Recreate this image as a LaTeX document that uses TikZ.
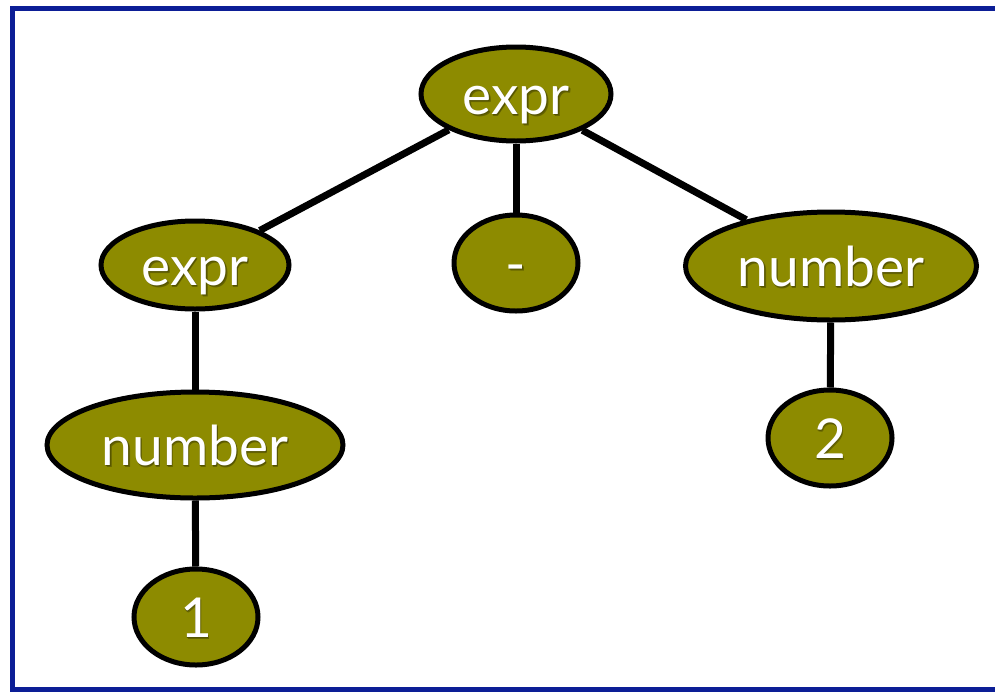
\documentclass[tikz,border=0pt]{standalone}
\usepackage{fontspec}
\setmainfont{Lato}
\usetikzlibrary{shapes.geometric}
\definecolor{treefill}{RGB}{141,139,0}
\definecolor{treeshade}{RGB}{70,69,0}
\definecolor{frameblue}{RGB}{12,30,150}
% white label with a soft dark drop shadow
\newcommand\shtext[1]{%
  \rlap{\raisebox{-2pt}{\hspace{1.5pt}\textcolor{treeshade!55!treefill}{#1}}}%
  \rlap{\raisebox{-1pt}{\hspace{0.8pt}\textcolor{treeshade!80!treefill}{#1}}}%
  \textcolor{white}{#1}}
\tikzset{
  tnode/.style={ellipse, draw=black, line width=5pt, fill=treefill,
    inner sep=0pt, text height=40pt, text depth=0pt,
    font=\fontsize{55}{66}\selectfont},
  tedge/.style={draw=black, line width=7pt},
  frame/.style={draw=frameblue, line width=5pt}
}
\begin{document}
\begin{tikzpicture}[x=1pt, y=-1pt]
  \useasboundingbox (0,0) rectangle (995,691);
  \clip (0,0) rectangle (995,691);
  \fill[white] (0,0) rectangle (995,691);
  \draw[frame] (12.5,8.5) rectangle (1010,689.5);

  \node[tnode, minimum width=190pt, minimum height=94pt] (e0) at (516,94) {\shtext{expr}};
  \node[tnode, minimum width=188pt, minimum height=88pt] (e1) at (195,265) {\shtext{expr}};
  \node[tnode, minimum width=124pt, minimum height=96pt] (m) at (516,263) {\shtext{-}};
  \node[tnode, minimum width=291pt, minimum height=108pt] (n2) at (831,266) {\shtext{number}};
  \node[tnode, minimum width=296pt, minimum height=106pt] (n1) at (195,445) {\shtext{number}};
  \node[tnode, minimum width=124pt, minimum height=96pt] (t2) at (830,438) {\shtext{2}};
  \node[tnode, minimum width=124pt, minimum height=96pt] (o1) at (196,617) {\shtext{1}};

  \draw[tedge] (e0) -- (e1);
  \draw[tedge] (e0) -- (m);
  \draw[tedge] (e0) -- (n2);
  \draw[tedge] (e1) -- (n1);
  \draw[tedge] (n1) -- (o1);
  \draw[tedge] (n2) -- (t2);
\end{tikzpicture}
\end{document}
